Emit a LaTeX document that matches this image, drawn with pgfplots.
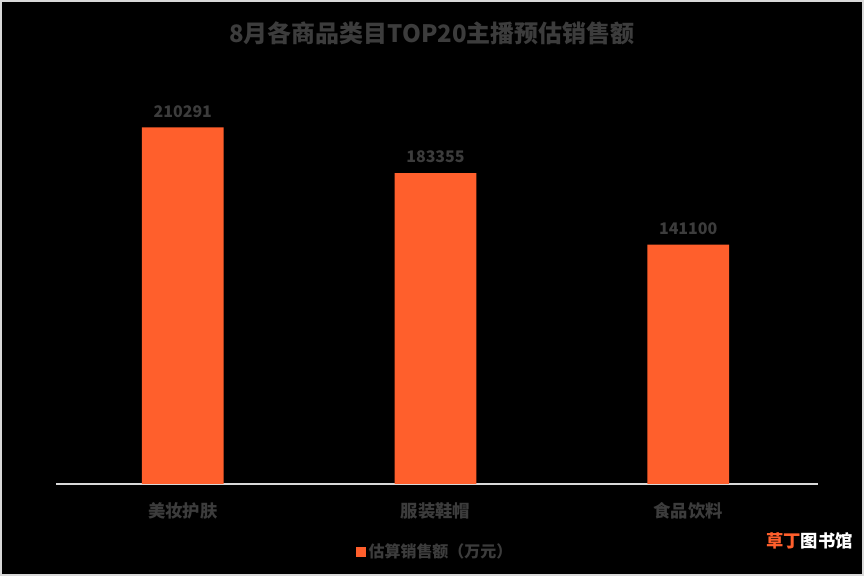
\documentclass[border=0pt]{standalone}
\usepackage{fontspec}
\setmainfont{Noto Sans CJK SC}
\usepackage{pgfplots}
\pgfplotsset{compat=1.18}
\definecolor{barorange}{HTML}{FF5F2C}
\definecolor{txt}{HTML}{3C3C3C}
\definecolor{axgray}{HTML}{D9D9D9}
\begin{document}
\begin{tikzpicture}
% page = 864 x 576 px, 1px = 0.75pt, y measured from bottom
\fill[black] (0pt,0pt) rectangle (648pt,432pt);
\draw[axgray, line width=1.5pt] (0.4pt,0.4pt) rectangle (647.6pt,431.6pt);
\useasboundingbox (0pt,0pt) rectangle (648pt,432pt);
\node[txt, font=\bfseries\fontsize{18}{20}\selectfont] at (324pt,407pt) {8月各商品类目TOP20主播预估销售额};
\begin{axis}[
    at={(42pt,69pt)}, anchor=south west,
    scale only axis,
    width=569.25pt, height=318.3pt,
    ymin=0, ymax=250000,
    xmin=-0.5, xmax=2.5,
    xtick=data,
    xticklabels={美妆护肤, 服装鞋帽, 食品饮料},
    hide y axis,
    axis x line=bottom,
    x axis line style={draw=axgray, line width=1.5pt, -, shorten >=-2.5pt},
    xtick style={draw=none},
    xticklabel style={font=\bfseries\fontsize{13}{15}\selectfont, text=txt, yshift=-6pt},
    ybar, bar width=61.5pt,
    nodes near coords,
    nodes near coords style={font=\bfseries\fontsize{12}{14}\selectfont, text=txt, yshift=4pt,
        /pgf/number format/fixed, /pgf/number format/1000 sep={},
        /pgf/number format/assume math mode=true},
    point meta=y,
    legend style={at={(0.5,-0.16)}, anchor=center, draw=none, fill=none,
        font=\bfseries\fontsize{12}{14}\selectfont, text=txt, legend columns=1},
    legend image code/.code={\fill[barorange] (0pt,-3.75pt) rectangle (7.5pt,3.75pt);},
]
\addplot[fill=barorange, draw=none] coordinates {
    (0, 210291)
    (1, 183355)
    (2, 141100)
};
\addlegendentry{估算销售额（万元）}
\end{axis}
\node[anchor=east, font=\bfseries\fontsize{13}{15}\selectfont] at (643.5pt,26pt)
    {\textcolor{barorange}{草丁}\textcolor{white}{图书馆}};
\end{tikzpicture}
\end{document}
